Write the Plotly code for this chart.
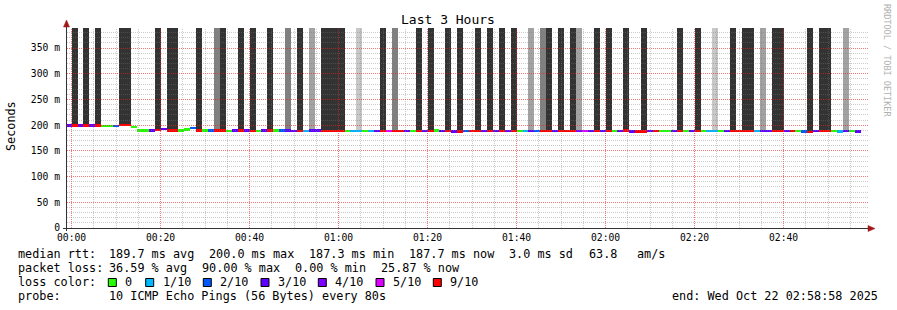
import math
import plotly.graph_objects as go
import pandas as pd

# ---------------- data ----------------
first_step_start = "2025-10-21 23:58:40"   # probe step = 80 s
step_seconds = 80
view_start = "2025-10-21 23:58:58"
view_end = "2025-10-22 02:58:58"

# median rtt per 80 s step (ms)
rtt_ms = [
    199.5, 199.2, 199.6, 199.6, 199.6, 199.0, 198.8, 198.8, 198.8, 200.0,
    200.0, 196.5, 189.5, 189.5, 189.5, 191.0, 192.0, 189.3, 189.3, 190.0,
    191.5, 194.0, 189.8, 189.3, 189.8, 189.3, 189.3, 188.3, 189.3, 189.8,
    189.3, 188.3, 188.3, 189.3, 189.8, 189.3, 189.3, 189.3, 188.3, 188.3,
    188.3, 189.3, 189.3, 189.0, 189.0, 188.8, 188.8, 188.8, 188.8, 188.8,
    188.8, 188.8, 188.8, 188.8, 188.8, 188.8, 188.8, 188.8, 188.8, 188.8,
    188.8, 188.8, 189.8, 188.8, 188.8, 187.8, 187.8, 188.5, 188.8, 188.8,
    188.8, 188.8, 188.8, 188.8, 188.8, 188.8, 188.8, 188.8, 188.8, 188.8,
    188.8, 188.8, 188.8, 188.8, 188.8, 188.8, 188.8, 188.8, 188.8, 188.8,
    188.8, 188.8, 188.8, 188.8, 189.5, 188.0, 187.5, 187.5, 188.8, 188.8,
    188.8, 188.8, 188.8, 188.8, 188.8, 188.8, 188.8, 188.8, 188.8, 188.8,
    188.8, 188.8, 188.8, 188.8, 188.8, 188.8, 188.8, 188.8, 188.8, 188.8,
    188.8, 188.8, 188.8, 188.8, 187.5, 187.3, 188.8, 188.8, 188.8, 188.8,
    187.8, 188.8, 188.8, 187.7,
]

# lost pings out of 10 per step
loss_of_10 = [
    3, 9, 3, 9, 3, 9, 0, 0, 2, 9,
    9, 0, 0, 0, 3, 9, 3, 9, 9, 0,
    0, 2, 9, 0, 2, 9, 9, 0, 3, 9,
    3, 9, 0, 3, 9, 0, 2, 3, 3, 9,
    1, 3, 3, 9, 9, 9, 9, 0, 1, 1,
    0, 1, 3, 9, 5, 9, 9, 3, 0, 9,
    3, 9, 0, 3, 9, 3, 9, 2, 9, 9,
    3, 9, 3, 9, 3, 9, 0, 1, 3, 2,
    9, 9, 3, 9, 9, 9, 4, 5, 3, 9,
    3, 9, 0, 3, 9, 3, 9, 9, 3, 9,
    0, 0, 3, 9, 0, 3, 9, 0, 1, 1,
    0, 3, 9, 9, 9, 9, 1, 3, 3, 9,
    9, 3, 9, 0, 2, 9, 3, 9, 9, 0,
    1, 3, 0, 3,
]

# smoke density above the median (0 none .. 4 dense)
smoke_level = [
    0, 4, 0, 4, 0, 4, 0, 0, 0, 4,
    4, 0, 0, 0, 0, 4, 0, 4, 4, 0,
    0, 0, 4, 0, 0, 3, 4, 0, 0, 4,
    0, 4, 0, 0, 4, 0, 0, 3, 0, 4,
    0, 2, 0, 4, 4, 4, 4, 0, 0, 1,
    0, 0, 0, 4, 0, 3, 0, 0, 0, 4,
    0, 4, 0, 0, 4, 0, 4, 0, 0, 4,
    0, 4, 0, 4, 0, 4, 0, 0, 2, 0,
    3, 4, 0, 4, 0, 4, 2, 0, 0, 4,
    0, 4, 0, 0, 4, 0, 0, 4, 0, 0,
    0, 0, 0, 4, 0, 0, 4, 0, 0, 1,
    0, 0, 4, 0, 4, 4, 0, 2, 0, 4,
    4, 0, 0, 0, 0, 4, 0, 4, 4, 0,
    0, 2, 0, 0,
]

loss_keys = [0, 1, 2, 3, 4, 5, 9]
loss_labels = ["0", "1/10", "2/10", "3/10", "4/10", "5/10", "9/10"]
loss_colors = ["#26ff00", "#00b8ff", "#0059ff", "#5e00ff", "#7e00ff", "#dd00ff", "#ff0000"]

y_ticks = [0, 50, 100, 150, 200, 250, 300, 350]
y_tick_text = ["0", "50 m", "100 m", "150 m", "200 m", "250 m", "300 m", "350 m"]

stats_rtt = ["189.7 ms avg", "200.0 ms max", "187.3 ms min", "187.7 ms now", "3.0 ms sd", "63.8", "am/s"]
stats_loss = ["36.59 % avg", "90.00 % max", "0.00 % min", "25.87 % now"]
probe_text = "10 ICMP Echo Pings (56 Bytes) every 80s"
end_text = "end: Wed Oct 22 02:58:58 2025"

# ---------------- styling / layout ----------------
W, H = 897, 310
L, R, T, B = 67, 29, 28, 82
PW, PH = W - L - R, H - T - B
Y_TOP = 389.0
PX_PER_MS = PH / Y_TOP
LINE_MS = 2.4 / PX_PER_MS

def px(x):
    return (x - L) / PW

def py(y):
    return (H - B - y) / PH

smoke_colors = {1: "#c8c8c8", 2: "#a2a2a2", 3: "#808080", 4: "#333333"}
mono = "DejaVu Sans Mono"

starts = pd.date_range(first_step_start, periods=len(rtt_ms), freq=f"{step_seconds}s")
centers = starts + pd.Timedelta(seconds=step_seconds / 2)
width_ms = step_seconds * 1000

color_of = dict(zip(loss_keys, loss_colors))

fig = go.Figure()

# smoke
sx, sbase, sy, sc = [], [], [], []
for c, v, s in zip(centers, rtt_ms, smoke_level):
    if s > 0:
        sx.append(c)
        sbase.append(v + LINE_MS / 2)
        sy.append(Y_TOP - v - LINE_MS / 2)
        sc.append(smoke_colors[s])
fig.add_trace(go.Bar(x=sx, y=sy, base=sbase, width=width_ms,
                     marker=dict(color=sc, line=dict(width=0)), showlegend=False))

# median line coloured by loss
fig.add_trace(go.Bar(x=list(centers), y=[LINE_MS] * len(rtt_ms),
                     base=[v - LINE_MS / 2 for v in rtt_ms], width=width_ms,
                     marker=dict(color=[color_of[l] for l in loss_of_10], line=dict(width=0)),
                     showlegend=False))

fig.update_layout(
    width=W, height=H, autosize=False,
    margin=dict(l=L, r=R, t=T, b=B, pad=0),
    paper_bgcolor="white", plot_bgcolor="white",
    barmode="overlay", bargap=0,
    font=dict(family=mono, size=11.8, color="black"),
    xaxis=dict(
        type="date", range=[view_start, view_end],
        tick0="2025-10-22 00:00:00", dtick=20 * 60 * 1000, tickformat="%H:%M",
        showgrid=False, showline=False, zeroline=False, ticks="",
        tickfont=dict(family=mono, size=9.7, color="black"),
        ticklabelstandoff=2, fixedrange=True,
    ),
    yaxis=dict(
        range=[0, Y_TOP], tickvals=y_ticks, ticktext=y_tick_text,
        showgrid=False, showline=False, zeroline=False, ticks="",
        tickfont=dict(family=mono, size=9.7, color="black"),
        ticklabelstandoff=6, fixedrange=True,
    ),
)

shapes = []
# grid drawn on top of the data (as rrdtool does), snapped to pixel centres
grid_minor = "rgba(120,120,120,0.38)"
grid_major = "rgba(240,30,30,0.6)"
dots = "1px,1px"
v0 = pd.Timestamp(view_start)
span = (pd.Timestamp(view_end) - v0).total_seconds()

def snap(p):
    return math.floor(p) + 0.5

t = pd.Timestamp("2025-10-22 00:00:00")
i = 0
while t < pd.Timestamp(view_end):
    col = grid_major if i % 4 == 0 else grid_minor
    xp = snap(L + (t - v0).total_seconds() / span * PW)
    shapes.append(dict(type="line", xref="paper", yref="paper", x0=px(xp), x1=px(xp), y0=0, y1=1,
                       layer="above", line=dict(color=col, width=1, dash=dots)))
    t += pd.Timedelta(minutes=5)
    i += 1
for v in range(10, int(Y_TOP), 10):
    col = grid_major if v % 50 == 0 else grid_minor
    yp = snap(H - B - v * PX_PER_MS)
    shapes.append(dict(type="line", xref="paper", yref="paper", x0=0, x1=1, y0=py(yp), y1=py(yp),
                       layer="above", line=dict(color=col, width=1, dash=dots)))

ann = []
def text(x, y, s, size=11.8, anchor="left", color="black", angle=0):
    ann.append(dict(x=px(x), y=py(y), xref="paper", yref="paper", text=s, showarrow=False,
                    xanchor=anchor, yanchor="middle", textangle=angle,
                    font=dict(family=mono, size=size, color=color)))

text(448, 19, "Last 3 Hours", size=13, anchor="center")
text(11, 126, "Seconds", size=11.8, anchor="center", angle=-90)
text(887, 60, "RRDTOOL / TOBI OETIKER", size=8.5, anchor="center", color="#b0b0b0", angle=90)

# line 1
text(16, 254, "median rtt:")
for s, x in zip(stats_rtt, [107.3, 207.3, 307.3, 407.3, 506.7, 587, 635]):
    text(x, 254, s)
# line 2
text(16, 268, "packet loss:")
for s, x in zip(stats_loss, [107.3, 200, 292.7, 379.3]):
    text(x, 268, s)
# line 3
text(16, 282, "loss color:")
box_x = [108.3, 145.7, 203.3, 261, 318.3, 376, 433.3]
for bx, lab, col in zip(box_x, loss_labels, loss_colors):
    shapes.append(dict(type="rect", xref="paper", yref="paper",
                       x0=px(bx), x1=px(bx + 8), y0=py(286.5), y1=py(278.5),
                       fillcolor=col, line=dict(color="black", width=1)))
    text(bx + 14.8, 282, lab)
# line 4
text(16, 296, "probe:")
text(107.3, 296, probe_text)
text(880, 296, end_text, anchor="right")

# axes with arrows
axis_col = "#333333"
arrow_col = "#a01818"
shapes.append(dict(type="line", xref="paper", yref="paper", x0=px(63), x1=px(870),
                   y0=py(228.5), y1=py(228.5), line=dict(color=axis_col, width=1)))
shapes.append(dict(type="line", xref="paper", yref="paper", x0=px(66.5), x1=px(66.5),
                   y0=py(231), y1=py(24), line=dict(color=axis_col, width=1)))
shapes.append(dict(type="path", xref="paper", yref="paper",
                   path=f"M {px(868)} {py(225.5)} L {px(875)} {py(228.5)} L {px(868)} {py(231.5)} Z",
                   fillcolor=arrow_col, line=dict(color=arrow_col, width=0.5)))
shapes.append(dict(type="path", xref="paper", yref="paper",
                   path=f"M {px(63.5)} {py(27)} L {px(66.5)} {py(20)} L {px(69.5)} {py(27)} Z",
                   fillcolor=arrow_col, line=dict(color=arrow_col, width=0.5)))

fig.update_layout(annotations=ann, shapes=shapes)
fig.write_html("out.html")
